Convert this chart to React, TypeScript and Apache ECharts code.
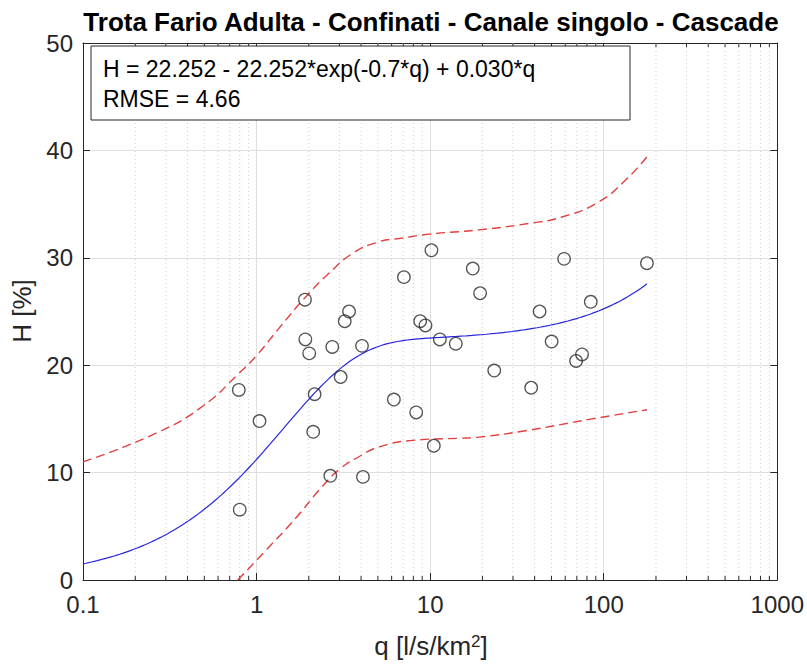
import React, { useEffect, useRef } from "react";
import * as echarts from "echarts";

const TITLE = "Trota Fario Adulta - Confinati - Canale singolo - Cascade";
const EQUATION_TEXT = "H = 22.252 - 22.252*exp(-0.7*q) + 0.030*q";
const RMSE_TEXT = "RMSE = 4.66";

// Fit model: H = A - A*exp(-K*q) + B*q
const FIT_A = 22.252;
const FIT_K = 0.7;
const FIT_B = 0.03;

// Observed specific discharge q [l/s/km2] and habitat H [%]
const qObserved = [
  0.79, 0.8, 1.04, 1.9, 1.91, 2.01, 2.16, 2.12, 2.66, 2.73, 3.05, 3.22,
  3.41, 4.05, 4.1, 6.18, 7.06, 8.31, 8.76, 9.4, 10.17, 10.5, 11.37, 14.05,
  17.6, 19.4, 23.4, 38.2, 42.7, 50.1, 59.1, 69.3, 75.0, 84.2, 177.4,
];
const hObserved = [
  17.7, 6.55, 14.8, 26.1, 22.4, 21.1, 17.3, 13.8, 9.7, 21.7, 18.9, 24.1,
  25.0, 21.8, 9.6, 16.8, 28.2, 15.6, 24.1, 23.7, 30.7, 12.5, 22.4, 22.0,
  29.0, 26.7, 19.5, 17.9, 25.0, 22.2, 29.9, 20.4, 21.0, 25.9, 29.5,
];

// Prediction bounds
const qUpper = [0.1, 0.266, 0.491, 0.798, 1.0, 1.356, 1.93, 2.63, 3.57, 5.09, 6.64, 9.87, 19.1, 37.1, 57.5, 93.5, 133, 177.4];
const hUpper = [11.0, 13.7, 16.2, 19.3, 20.9, 23.5, 26.4, 28.6, 30.4, 31.5, 31.8, 32.2, 32.6, 33.2, 33.8, 35.2, 37.2, 39.4];
const qLower = [0.78, 1.137, 1.69, 2.3, 3.0, 3.91, 5.09, 7.9, 14.7, 19.1, 35.5, 85.7, 177.4];
const hLower = [0.0, 2.8, 5.8, 8.4, 10.3, 11.5, 12.4, 13.0, 13.2, 13.3, 13.9, 15.0, 15.85];

// Axis ticks
const X_TICKS = [0.1, 1, 10, 100, 1000];
const X_TICK_LABELS = ["0.1", "1", "10", "100", "1000"];
const X_MINOR_STEPS = [2, 3, 4, 5, 6, 7, 8, 9];
const Y_MIN = 0;
const Y_MAX = 50;
const Y_STEP = 10;

const FONT = "'Liberation Sans', Arial, Helvetica, sans-serif";
const INK = "#262626";

function fitH(q: number): number {
  return FIT_A - FIT_A * Math.exp(-FIT_K * q) + FIT_B * q;
}

export default function App() {
  const ref = useRef<HTMLDivElement>(null);

  useEffect(() => {
    document.body.style.margin = "0";
    if (!ref.current) return;
    const chart = echarts.init(ref.current, undefined, { renderer: "svg" });

    const qMax = Math.max(...qObserved);
    const nCurve = 200;
    const lo = Math.log10(X_TICKS[0]);
    const hi = Math.log10(qMax);
    const fitData: number[][] = [];
    for (let i = 0; i <= nCurve; i++) {
      const q = Math.pow(10, lo + ((hi - lo) * i) / nCurve);
      fitData.push([q, fitH(q)]);
    }

    const minorTicks: number[][] = [];
    X_TICKS.slice(0, -1).forEach((d) => {
      X_MINOR_STEPS.forEach((m) => minorTicks.push([d * m, 0]));
    });

    const labelFor = (v: number) => {
      let best = 0;
      X_TICKS.forEach((t, i) => {
        if (Math.abs(Math.log10(t) - Math.log10(v)) < Math.abs(Math.log10(X_TICKS[best]) - Math.log10(v))) best = i;
      });
      return X_TICK_LABELS[best];
    };

    const xBase = {
      type: "log" as const,
      logBase: 10,
      min: X_TICKS[0],
      max: X_TICKS[X_TICKS.length - 1],
      axisLine: { show: true, onZero: false, lineStyle: { color: INK, width: 1 } },
      axisTick: { show: true, inside: true, length: 7, lineStyle: { color: INK, width: 1 } },
    };
    const yBase = {
      type: "value" as const,
      min: Y_MIN,
      max: Y_MAX,
      interval: Y_STEP,
      axisLine: { show: true, onZero: false, lineStyle: { color: INK, width: 1 } },
      axisTick: { show: true, inside: true, length: 7, lineStyle: { color: INK, width: 1 } },
    };

    const boundStyle = { color: "#e23f3f", width: 1.4, type: [9, 5] as number[] };

    chart.setOption({
      animation: false,
      backgroundColor: "#ffffff",
      grid: { left: 83, right: 28, top: 43, bottom: 86, containLabel: false },
      xAxis: [
        {
          ...xBase,
          position: "bottom",
          axisLabel: {
            fontSize: 24,
            color: INK,
            fontFamily: FONT,
            margin: 12,
            showMaxLabel: true,
            showMinLabel: true,
            formatter: (v: number) => labelFor(v),
          },
          splitLine: { show: true, lineStyle: { color: "#dfdfdf", width: 1 } },
        },
        {
          ...xBase,
          position: "top",
          axisLabel: { show: false },
          splitLine: { show: false },
        },
      ],
      yAxis: [
        {
          ...yBase,
          position: "left",
          axisLabel: { fontSize: 24, color: INK, fontFamily: FONT, margin: 10 },
          splitLine: { show: true, lineStyle: { color: "#dfdfdf", width: 1 } },
        },
        {
          ...yBase,
          position: "right",
          axisLabel: { show: false },
          splitLine: { show: false },
        },
      ],
      series: [
        {
          type: "custom",
          name: "minor grid",
          silent: true,
          z: 1,
          clip: false,
          data: minorTicks,
          encode: { x: 0, y: 1 },
          renderItem: (_params: any, api: any) => {
            const q = api.value(0);
            const b = api.coord([q, Y_MIN]);
            const t = api.coord([q, Y_MAX]);
            return {
              type: "group",
              children: [
                {
                  type: "line",
                  shape: { x1: b[0], y1: b[1], x2: t[0], y2: t[1] },
                  style: { stroke: "#cccccc", lineWidth: 1, lineDash: [1, 3] },
                },
                {
                  type: "line",
                  shape: { x1: b[0], y1: b[1], x2: b[0], y2: b[1] - 4 },
                  style: { stroke: INK, lineWidth: 1 },
                },
                {
                  type: "line",
                  shape: { x1: t[0], y1: t[1], x2: t[0], y2: t[1] + 4 },
                  style: { stroke: INK, lineWidth: 1 },
                },
              ],
            };
          },
        },
        {
          type: "line",
          name: "upper bound",
          data: qUpper.map((q, i) => [q, hUpper[i]]),
          smooth: 0.5,
          showSymbol: false,
          silent: true,
          z: 3,
          lineStyle: boundStyle,
        },
        {
          type: "line",
          name: "lower bound",
          data: qLower.map((q, i) => [q, hLower[i]]),
          smooth: 0.5,
          showSymbol: false,
          silent: true,
          z: 3,
          lineStyle: boundStyle,
        },
        {
          type: "line",
          name: "fit",
          data: fitData,
          showSymbol: false,
          silent: true,
          z: 4,
          lineStyle: { color: "#2626e0", width: 1.2 },
        },
        {
          type: "scatter",
          name: "observed",
          data: qObserved.map((q, i) => [q, hObserved[i]]),
          symbol: "circle",
          symbolSize: 12.5,
          z: 5,
          itemStyle: { color: "rgba(255,255,255,0)", borderColor: "#2b2b2b", borderWidth: 1.3 },
        },
      ],
      graphic: [
        {
          type: "text",
          z: 100,
          x: 431,
          y: 22,
          style: {
            text: TITLE,
            fontFamily: FONT,
            fontSize: 26,
            fontWeight: "bold",
            fill: "#000000",
            align: "center",
            verticalAlign: "middle",
          },
        },
        {
          type: "rect",
          z: 100,
          shape: { x: 91, y: 46, width: 539, height: 74 },
          style: { fill: "#ffffff", stroke: INK, lineWidth: 1 },
        },
        {
          type: "text",
          z: 101,
          x: 103,
          y: 69,
          style: {
            text: EQUATION_TEXT,
            fontFamily: FONT,
            fontSize: 23,
            fill: "#000000",
            align: "left",
            verticalAlign: "middle",
          },
        },
        {
          type: "text",
          z: 101,
          x: 103,
          y: 99,
          style: {
            text: RMSE_TEXT,
            fontFamily: FONT,
            fontSize: 23,
            fill: "#000000",
            align: "left",
            verticalAlign: "middle",
          },
        },
        {
          type: "text",
          z: 100,
          x: 22,
          y: 311,
          rotation: Math.PI / 2,
          style: {
            text: "H [%]",
            fontFamily: FONT,
            fontSize: 26,
            fill: INK,
            align: "center",
            verticalAlign: "middle",
          },
        },
        {
          type: "text",
          z: 100,
          x: 431,
          y: 646,
          style: {
            text: "{n|q [l/s/km}{s|2}{n|]}",
            fontFamily: FONT,
            fill: INK,
            align: "center",
            verticalAlign: "middle",
            rich: {
              n: { fontSize: 26, fontFamily: FONT, fill: INK, verticalAlign: "bottom" },
              s: { fontSize: 17, fontFamily: FONT, fill: INK, verticalAlign: "top" },
            },
          },
        },
      ],
    });

    return () => chart.dispose();
  }, []);

  return <div ref={ref} style={{ width: 807, height: 666 }} />;
}
